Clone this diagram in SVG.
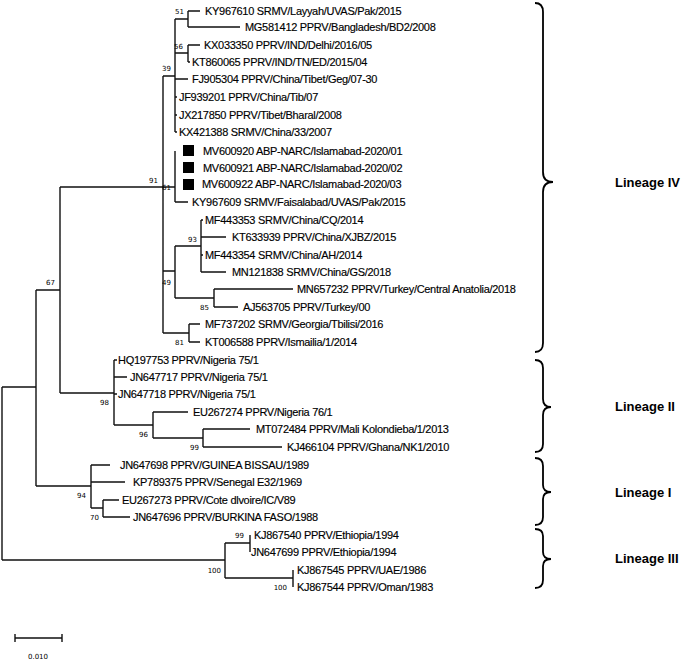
<svg xmlns="http://www.w3.org/2000/svg" width="685" height="660" viewBox="0 0 685 660">
<style>
.t{font-family:"Liberation Sans",Arial,sans-serif;font-size:11px;letter-spacing:-0.3px;fill:#000;stroke:#000;stroke-width:0.15}
.b{font-family:"DejaVu Sans",sans-serif;font-size:7px;fill:#000}
.l{font-family:"Liberation Sans",Arial,sans-serif;font-size:13px;font-weight:bold;fill:#000}
.e{fill:none;stroke:#111;stroke-width:1.4}
.br{fill:none;stroke:#000;stroke-width:1.8}
</style>
<rect width="685" height="660" fill="#fff"/>
<g id="connectors">
<path class="e" d="M2,387V560M2,387H36M2,560H225
M36,290V486M36,290H60M36,486H91
M60,187V393M60,187H163M60,393H114
M163,76V333M163,76H175M163,187H175M163,271H175M163,333H189
M175,19V132M175,19H188M175,53H188M175,79H188M175,97H177M175,115H177M175,132H177
M188,11V27M188,11H200M188,27H240
M188,45V62M188,45H200M188,62H190
M175,151V202M175,202H188
M175,246V298M175,246H201M175,298H214
M201,220V272M201,220H203M201,237H226M201,255H203M201,272H226
M214,289V307M214,289H293M214,307H238
M189,324V342M189,324H200M189,342H200
M114,360V425M114,360H117M114,377H127M114,394H117M114,425H153
M153,412V438M153,412H188M153,438H203
M203,429V447M203,429H250M203,447H282
M91,465V508M91,465H110M91,482H125M91,508H103
M103,500V517M103,500H119M103,517H130
M225,543V578M225,543H250M225,578H293
M250,535V552M293,570V587"/>
</g>
<g id="bootstrap">
<text class="b" x="184" y="14" text-anchor="end">51</text>
<text class="b" x="183" y="49" text-anchor="end">56</text>
<text class="b" x="171" y="71" text-anchor="end">39</text>
<text class="b" x="158" y="183" text-anchor="end">91</text>
<text class="b" x="171" y="190" text-anchor="end">61</text>
<text class="b" x="197" y="242" text-anchor="end">93</text>
<text class="b" x="171" y="285" text-anchor="end">49</text>
<text class="b" x="209" y="310" text-anchor="end">85</text>
<text class="b" x="184" y="345" text-anchor="end">81</text>
<text class="b" x="55" y="285" text-anchor="end">67</text>
<text class="b" x="109" y="405" text-anchor="end">98</text>
<text class="b" x="148" y="437" text-anchor="end">96</text>
<text class="b" x="199" y="450" text-anchor="end">99</text>
<text class="b" x="86" y="498" text-anchor="end">94</text>
<text class="b" x="99" y="520" text-anchor="end">70</text>
<text class="b" x="244" y="538" text-anchor="end">99</text>
<text class="b" x="221" y="573" text-anchor="end">100</text>
<text class="b" x="287" y="590" text-anchor="end">100</text>
</g>
<g id="n-KY967610"><text class="t" x="205" y="15">KY967610 SRMV/Layyah/UVAS/Pak/2015</text></g>
<g id="n-MG581412"><text class="t" x="245" y="31">MG581412 PPRV/Bangladesh/BD2/2008</text></g>
<g id="n-KX033350"><text class="t" x="204" y="49">KX033350 PPRV/IND/Delhi/2016/05</text></g>
<g id="n-KT860065"><text class="t" x="192" y="66">KT860065 PPRV/IND/TN/ED/2015/04</text></g>
<g id="n-FJ905304"><text class="t" x="192" y="83">FJ905304 PPRV/China/Tibet/Geg/07-30</text></g>
<g id="n-JF939201"><text class="t" x="179" y="101">JF939201 PPRV/China/Tib/07</text></g>
<g id="n-JX217850"><text class="t" x="179" y="119">JX217850 PPRV/Tibet/Bharal/2008</text></g>
<g id="n-KX421388"><text class="t" x="179" y="136">KX421388 SRMV/China/33/2007</text></g>
<g id="n-MV600920"><rect x="183" y="145" width="11" height="11" fill="#000"/><text class="t" x="203" y="155">MV600920 ABP-NARC/Islamabad-2020/01</text></g>
<g id="n-MV600921"><rect x="183" y="162" width="11" height="11" fill="#000"/><text class="t" x="203" y="172">MV600921 ABP-NARC/Islamabad-2020/02</text></g>
<g id="n-MV600922"><rect x="183" y="179" width="11" height="11" fill="#000"/><text class="t" x="202" y="188">MV600922 ABP-NARC/Islamabad-2020/03</text></g>
<g id="n-KY967609"><text class="t" x="192" y="206">KY967609 SRMV/Faisalabad/UVAS/Pak/2015</text></g>
<g id="n-MF443353"><text class="t" x="205" y="224">MF443353 SRMV/China/CQ/2014</text></g>
<g id="n-KT633939"><text class="t" x="232" y="241">KT633939 PPRV/China/XJBZ/2015</text></g>
<g id="n-MF443354"><text class="t" x="205" y="259">MF443354 SRMV/China/AH/2014</text></g>
<g id="n-MN121838"><text class="t" x="232" y="276">MN121838 SRMV/China/GS/2018</text></g>
<g id="n-MN657232"><text class="t" x="297" y="293">MN657232 PPRV/Turkey/Central Anatolia/2018</text></g>
<g id="n-AJ563705"><text class="t" x="243" y="311">AJ563705 PPRV/Turkey/00</text></g>
<g id="n-MF737202"><text class="t" x="205" y="328">MF737202 SRMV/Georgia/Tbilisi/2016</text></g>
<g id="n-KT006588"><text class="t" x="205" y="346">KT006588 PPRV/Ismailia/1/2014</text></g>
<g id="n-HQ197753"><text class="t" x="118" y="364">HQ197753 PPRV/Nigeria 75/1</text></g>
<g id="n-JN647717"><text class="t" x="130" y="381">JN647717 PPRV/Nigeria 75/1</text></g>
<g id="n-JN647718"><text class="t" x="118" y="398">JN647718 PPRV/Nigeria 75/1</text></g>
<g id="n-EU267274"><text class="t" x="193" y="416">EU267274 PPRV/Nigeria 76/1</text></g>
<g id="n-MT072484"><text class="t" x="256" y="433">MT072484 PPRV/Mali Kolondieba/1/2013</text></g>
<g id="n-KJ466104"><text class="t" x="287" y="451">KJ466104 PPRV/Ghana/NK1/2010</text></g>
<g id="n-JN647698"><text class="t" x="120" y="469">JN647698 PPRV/GUINEA BISSAU/1989</text></g>
<g id="n-KP789375"><text class="t" x="133" y="486">KP789375 PPRV/Senegal E32/1969</text></g>
<g id="n-EU267273"><text class="t" x="122" y="504">EU267273 PPRV/Cote dlvoire/IC/V89</text></g>
<g id="n-JN647696"><text class="t" x="133" y="521">JN647696 PPRV/BURKINA FASO/1988</text></g>
<g id="n-KJ867540"><text class="t" x="254" y="539">KJ867540 PPRV/Ethiopia/1994</text></g>
<g id="n-JN647699"><text class="t" x="251" y="556">JN647699 PPRV/Ethiopia/1994</text></g>
<g id="n-KJ867545"><text class="t" x="297" y="574">KJ867545 PPRV/UAE/1986</text></g>
<g id="n-KJ867544"><text class="t" x="297" y="591">KJ867544 PPRV/Oman/1983</text></g>
<g id="lineage-IV">
<path class="br" d="M535,3Q543,3 543,12V172Q543,182 553,182Q543,182 543,192V343Q543,352 535,352"/>
<text class="l" x="615" y="187">Lineage IV</text>
</g>
<g id="lineage-II">
<path class="br" d="M535,360Q543,360 543,368V399Q543,407 551,407Q543,407 543,415V444Q543,452 535,452"/>
<text class="l" x="615" y="411">Lineage II</text>
</g>
<g id="lineage-I">
<path class="br" d="M535,458Q543,458 543,466V485Q543,492 551,492Q543,492 543,499V517Q543,525 535,525"/>
<text class="l" x="615" y="497">Lineage I</text>
</g>
<g id="lineage-III">
<path class="br" d="M535,529Q543,529 543,536V552Q543,559 551,559Q543,559 543,566V580Q543,588 535,588"/>
<text class="l" x="615" y="563">Lineage III</text>
</g>
<g id="scale">
<path class="e" d="M15,638H62M15,634V642M62,634V642"/>
<text class="b" x="38" y="659" text-anchor="middle">0.010</text>
</g>
</svg>
